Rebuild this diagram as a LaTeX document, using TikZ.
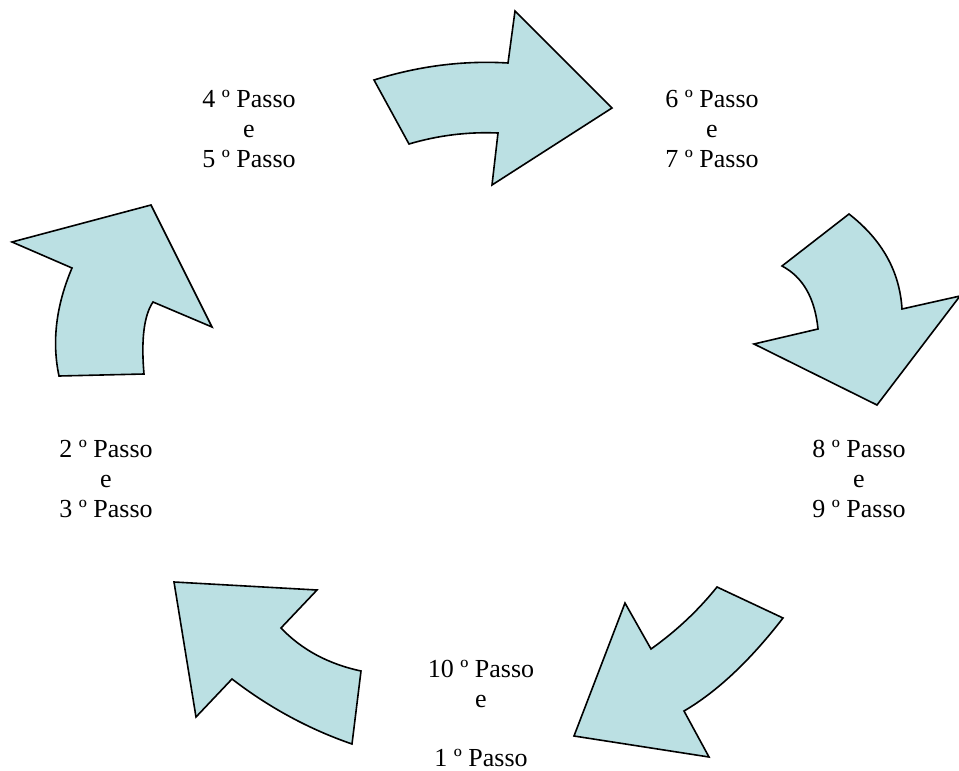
\documentclass[tikz,border=0pt]{standalone}
\usepackage{fontspec}
\setmainfont{Liberation Serif}
\definecolor{arrowfill}{HTML}{BBE0E3}
\begin{document}
\begin{tikzpicture}[x=1pt,y=-1pt,
  bigarrow/.style={fill=arrowfill,draw=black,line width=1.6pt,line join=miter},
  lbl/.style={anchor=base,inner sep=0pt,font=\fontsize{26}{30}\selectfont}]
\useasboundingbox (0,0) rectangle (959,771);
% top arrow
\draw[bigarrow] (374,80) .. controls (418.7,66) and (463.3,60.3) .. (508,63) -- (515,11) -- (612,108)
  -- (492,185) -- (498,133) .. controls (468,131.7) and (438.3,135.3) .. (409,144) -- cycle;
% right arrow
\draw[bigarrow] (849,214) .. controls (882,239.7) and (899.7,271.3) .. (902,309) -- (960,296) -- (877,405)
  -- (754,344) -- (818,329) .. controls (814.9,298) and (802.9,277) .. (782,266) -- cycle;
% bottom-right arrow
\draw[bigarrow] (717,587) -- (783,618) .. controls (750,660.7) and (717,691.7) .. (684,711) -- (709,757)
  -- (574,736) -- (625,603) -- (651,649) .. controls (676.3,631) and (698.3,610.3) .. (717,587) -- cycle;
% bottom-left arrow
\draw[bigarrow] (174,582) -- (317,590) -- (281,628) .. controls (301.7,649.7) and (328.3,664) .. (361,671)
  -- (352,744) .. controls (309.3,729.3) and (269.3,707.7) .. (232,679) -- (196,717) -- cycle;
% left arrow
\draw[bigarrow] (12,242) -- (151,205) -- (212,327) -- (153,302) .. controls (144,315.3) and (141,339.3) .. (144,374)
  -- (59,376) .. controls (51.7,341.7) and (56,305.7) .. (72,268) -- cycle;
% labels
\node[lbl] (t4a) at (249,107) {4 º Passo};
\node[lbl] (t4b) at (249,137) {e};
\node[lbl] (t4c) at (249,167) {5 º Passo};
\node[lbl] (t6a) at (712,107) {6 º Passo};
\node[lbl] (t6b) at (712,137) {e};
\node[lbl] (t6c) at (712,167) {7 º Passo};
\node[lbl] (t8a) at (859,457) {8 º Passo};
\node[lbl] (t8b) at (859,487) {e};
\node[lbl] (t8c) at (859,517) {9 º Passo};
\node[lbl] (t2a) at (106,457) {2 º Passo};
\node[lbl] (t2b) at (106,487) {e};
\node[lbl] (t2c) at (106,517) {3 º Passo};
\node[lbl] (t10a) at (481,677) {10 º Passo};
\node[lbl] (t10b) at (481,707) {e};
\node[lbl] (t10c) at (481,766) {1 º Passo};
\end{tikzpicture}
\end{document}
